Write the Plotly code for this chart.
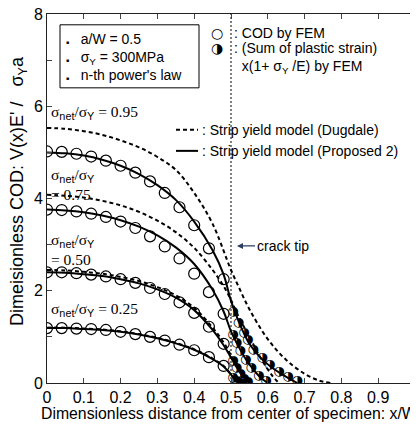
import plotly.graph_objects as go

# ---------------- data ----------------
x_open = [0.00, 0.04, 0.08, 0.12, 0.16, 0.20, 0.24, 0.28, 0.32, 0.36, 0.40, 0.44, 0.48]
open_095 = [5.02, 5.01, 4.97, 4.91, 4.82, 4.71, 4.56, 4.37, 4.12, 3.81, 3.42, 2.92, 2.25]
open_075 = [3.76, 3.75, 3.72, 3.67, 3.60, 3.50, 3.36, 3.18, 2.96, 2.70, 2.37, 1.97, 1.50]
open_050 = [2.40, 2.40, 2.38, 2.35, 2.31, 2.25, 2.17, 2.06, 1.93, 1.75, 1.52, 1.22, 0.85]
open_025 = [1.19, 1.19, 1.18, 1.17, 1.15, 1.11, 1.06, 1.00, 0.92, 0.83, 0.71, 0.56, 0.37]

x_half_095 = [0.505, 0.52, 0.535, 0.545, 0.56, 0.585, 0.605, 0.63, 0.655, 0.68]
half_095 = [1.55, 1.30, 1.10, 0.93, 0.72, 0.54, 0.39, 0.25, 0.13, 0.05]
x_half_075 = [0.505, 0.515, 0.525, 0.54, 0.555, 0.575, 0.595]
half_075 = [1.05, 0.88, 0.70, 0.50, 0.33, 0.16, 0.04]
x_half_050 = [0.505, 0.515, 0.525, 0.535, 0.545]
half_050 = [0.48, 0.33, 0.20, 0.09, 0.02]
x_half_025 = [0.505, 0.515, 0.525]
half_025 = [0.12, 0.05, 0.01]

x_sol_095 = [0, 0.05, 0.1, 0.15, 0.2, 0.25, 0.3, 0.35, 0.4, 0.45, 0.48, 0.5, 0.52, 0.55, 0.58, 0.61, 0.64, 0.66, 0.68]
sol_095 = [5.0, 4.98, 4.93, 4.84, 4.71, 4.53, 4.29, 3.97, 3.50, 2.88, 2.35, 1.78, 1.35, 0.85, 0.55, 0.34, 0.18, 0.09, 0.0]
x_sol_075 = [0, 0.05, 0.1, 0.15, 0.2, 0.25, 0.3, 0.35, 0.4, 0.45, 0.48, 0.5, 0.52, 0.54, 0.56, 0.58, 0.6]
sol_075 = [3.76, 3.74, 3.70, 3.63, 3.53, 3.39, 3.20, 2.94, 2.58, 2.02, 1.55, 1.12, 0.80, 0.52, 0.30, 0.12, 0.0]
x_sol_050 = [0, 0.05, 0.1, 0.15, 0.2, 0.25, 0.3, 0.35, 0.4, 0.45, 0.48, 0.5, 0.52, 0.54, 0.55]
sol_050 = [2.40, 2.39, 2.36, 2.32, 2.25, 2.16, 2.03, 1.85, 1.58, 1.15, 0.82, 0.55, 0.28, 0.07, 0.0]
x_sol_025 = [0, 0.05, 0.1, 0.15, 0.2, 0.25, 0.3, 0.35, 0.4, 0.45, 0.48, 0.5, 0.51, 0.52]
sol_025 = [1.19, 1.19, 1.17, 1.15, 1.11, 1.05, 0.97, 0.86, 0.72, 0.52, 0.36, 0.18, 0.08, 0.0]

x_dug_095 = [0, 0.05, 0.1, 0.15, 0.2, 0.25, 0.3, 0.35, 0.4, 0.45, 0.5, 0.52, 0.55, 0.6, 0.65, 0.7, 0.74, 0.77]
dug_095 = [5.53, 5.51, 5.46, 5.38, 5.26, 5.11, 4.90, 4.62, 4.12, 3.45, 2.45, 2.10, 1.60, 0.95, 0.50, 0.20, 0.05, 0.0]
x_dug_075 = [0, 0.05, 0.1, 0.15, 0.2, 0.25, 0.3, 0.35, 0.4, 0.45, 0.48, 0.5, 0.52, 0.55, 0.58, 0.61, 0.63]
dug_075 = [4.08, 4.06, 4.02, 3.95, 3.85, 3.71, 3.52, 3.27, 2.93, 2.45, 2.10, 1.80, 1.45, 1.00, 0.55, 0.18, 0.0]
x_dug_050 = [0, 0.05, 0.1, 0.15, 0.2, 0.25, 0.3, 0.35, 0.4, 0.45, 0.48, 0.5, 0.52, 0.54, 0.56]
dug_050 = [2.45, 2.44, 2.41, 2.37, 2.30, 2.21, 2.08, 1.90, 1.63, 1.20, 0.88, 0.60, 0.32, 0.10, 0.0]
x_dug_025 = x_sol_025
dug_025 = [1.20, 1.20, 1.18, 1.16, 1.12, 1.06, 0.98, 0.87, 0.73, 0.53, 0.37, 0.19, 0.09, 0.0]

x_ticks = [0, 0.1, 0.2, 0.3, 0.4, 0.5, 0.6, 0.7, 0.8, 0.9, 1]
x_ticktext = ["0", "0.1", "0.2", "0.3", "0.4", "0.5", "0.6", "0.7", "0.8", "0.9", "1"]
y_ticks = [0, 2, 4, 6, 8]
y_ticktext = ["0", "2", "4", "6", "8"]

crack_tip_x = 0.5

# ---------------- figure ----------------
SANS = "Liberation Sans, Arial, sans-serif"
SERIF = "Liberation Serif, Times New Roman, serif"
SYM = "DejaVu Sans"

fig = go.Figure()

fig.add_trace(go.Scatter(x=[crack_tip_x, crack_tip_x], y=[0, 8], mode="lines",
                         line=dict(color="black", width=1, dash="2px,2px"), hoverinfo="skip"))

for xs, ys in [(x_dug_095, dug_095), (x_dug_075, dug_075), (x_dug_050, dug_050), (x_dug_025, dug_025)]:
    fig.add_trace(go.Scatter(x=xs, y=ys, mode="lines", line=dict(color="black", width=2, dash="4px,3px", shape="spline")))

for xs, ys in [(x_sol_095, sol_095), (x_sol_075, sol_075), (x_sol_050, sol_050), (x_sol_025, sol_025)]:
    fig.add_trace(go.Scatter(x=xs, y=ys, mode="lines", line=dict(color="black", width=2, shape="spline")))

for ys in [open_095, open_075, open_050, open_025]:
    fig.add_trace(go.Scatter(x=x_open, y=ys, mode="markers",
                             marker=dict(symbol="circle-open", size=11, color="black", line=dict(width=1.2))))

for xs, ys in [(x_half_095, half_095), (x_half_075, half_075), (x_half_050, half_050), (x_half_025, half_025)]:
    fig.add_trace(go.Scatter(x=xs, y=ys, mode="text", text=["◑"] * len(xs),
                             textposition="middle center",
                             textfont=dict(family=SYM, size=13, color="black")))

# page body has an 8px margin: figure is sized/margined so the plot area lands where the reference has it
fig.update_layout(
    width=410, height=420,
    margin=dict(l=39, r=3, t=6, b=45),
    paper_bgcolor="white", plot_bgcolor="white",
    showlegend=False,
    font=dict(family=SANS, color="black"),
    xaxis=dict(range=[0, 1], tickvals=x_ticks, ticktext=x_ticktext, ticks="inside", ticklen=5,
               tickcolor="#444", showline=True, linecolor="#222", linewidth=1, mirror="ticks",
               showgrid=False, zeroline=False, tickfont=dict(size=16), automargin=False,
               ticklabeloverflow="allow"),
    yaxis=dict(range=[0, 8], tickvals=y_ticks, ticktext=y_ticktext, ticks="inside", ticklen=5,
               tickcolor="#444", showline=True, linecolor="#222", linewidth=1, mirror="ticks",
               showgrid=False, zeroline=False, tickfont=dict(size=16), automargin=False,
               ticklabeloverflow="allow",
               minor=dict(dtick=1, ticks="inside", ticklen=5, tickcolor="#444")),
)

def px2x(px):
    return (px - 47) / 368.0

def py2y(py):
    return (383 - py) / 46.1

def py2p(py):
    return (383 - py) / 369.0

ann = []
# axis titles
ann.append(dict(xref="paper", yref="paper", x=px2x(229), y=py2p(413), text="Dimensionless distance from center of specimen: x/W",
                showarrow=False, xanchor="center", yanchor="middle", font=dict(family=SANS, size=15.8)))
ann.append(dict(xref="paper", yref="paper", x=px2x(19), y=py2p(191), textangle=-90,
                text="Dimeisionless COD: V(x)E' /   σ<sub>Y</sub>a",
                showarrow=False, xanchor="center", yanchor="middle", font=dict(family=SANS, size=18)))

def sig(text_after):
    return ("σ<sub><span style='font-family:Liberation Sans'>net</span></sub>/σ"
            "<sub><span style='font-family:Liberation Sans'>Y</span></sub>" + text_after)

ann.append(dict(x=px2x(49), y=py2y(113), text=sig(" = 0.95"), xanchor="left", yanchor="middle",
                showarrow=False, font=dict(family=SERIF, size=15.5)))
ann.append(dict(x=px2x(49), y=py2y(185), text=sig("") + "<br>= 0.75", xanchor="left", yanchor="middle",
                showarrow=False, align="left", font=dict(family=SERIF, size=15.5)))
ann.append(dict(x=px2x(49), y=py2y(250), text=sig("") + "<br>= 0.50", xanchor="left", yanchor="middle",
                showarrow=False, align="left", font=dict(family=SERIF, size=15.5)))
ann.append(dict(x=px2x(49), y=py2y(310), text=sig(" = 0.25"), xanchor="left", yanchor="middle",
                showarrow=False, font=dict(family=SERIF, size=15.5)))

bullet = "<span style='font-size:5px'>■</span>"
ann.append(dict(x=px2x(64), y=py2y(57), xanchor="left", yanchor="middle", showarrow=False, align="left",
                text=bullet + "   a/W = 0.5<br>" + bullet + "   σ<sub>Y</sub> = 300MPa<br>" + bullet + "   n-th power's law",
                font=dict(family=SANS, size=14)))

ann.append(dict(x=px2x(217), y=py2y(33), text="○", showarrow=False, xanchor="center", yanchor="middle",
                font=dict(family=SYM, size=14)))
ann.append(dict(x=px2x(217), y=py2y(48), text="◑", showarrow=False, xanchor="center", yanchor="middle",
                font=dict(family=SYM, size=14)))
ann.append(dict(x=px2x(232), y=py2y(33), text=": COD by FEM", showarrow=False, xanchor="left", yanchor="middle",
                font=dict(family=SANS, size=14)))
ann.append(dict(x=px2x(232), y=py2y(58), text=": (Sum of plastic strain)<br>  x(1+ σ<sub>Y</sub> /E) by FEM",
                showarrow=False, xanchor="left", yanchor="middle", align="left",
                font=dict(family=SANS, size=14)))
ann.append(dict(x=px2x(200), y=py2y(130), text=": Strip yield model (Dugdale)", showarrow=False,
                xanchor="left", yanchor="middle", font=dict(family=SANS, size=14)))
ann.append(dict(x=px2x(200), y=py2y(151), text=": Strip yield model (Proposed 2)", showarrow=False,
                xanchor="left", yanchor="middle", font=dict(family=SANS, size=14)))
ann.append(dict(x=px2x(237), y=py2y(246), ax=18, ay=0, text="crack tip", showarrow=True,
                arrowhead=2, arrowsize=1, arrowwidth=1.2, xanchor="left", yanchor="middle",
                font=dict(family=SANS, size=14)))
fig.update_layout(annotations=ann)

shapes = []
shapes.append(dict(type="rect", xref="x", yref="y", x0=px2x(60), x1=px2x(199), y0=py2y(25), y1=py2y(88),
                   line=dict(color="black", width=1)))
shapes.append(dict(type="line", xref="x", yref="y", x0=px2x(176), x1=px2x(198), y0=py2y(130), y1=py2y(130),
                   line=dict(color="black", width=2, dash="4px,3px")))
shapes.append(dict(type="line", xref="x", yref="y", x0=px2x(176), x1=px2x(198), y0=py2y(151), y1=py2y(151),
                   line=dict(color="black", width=2)))
fig.update_layout(shapes=shapes)

fig.write_html("out.html")
